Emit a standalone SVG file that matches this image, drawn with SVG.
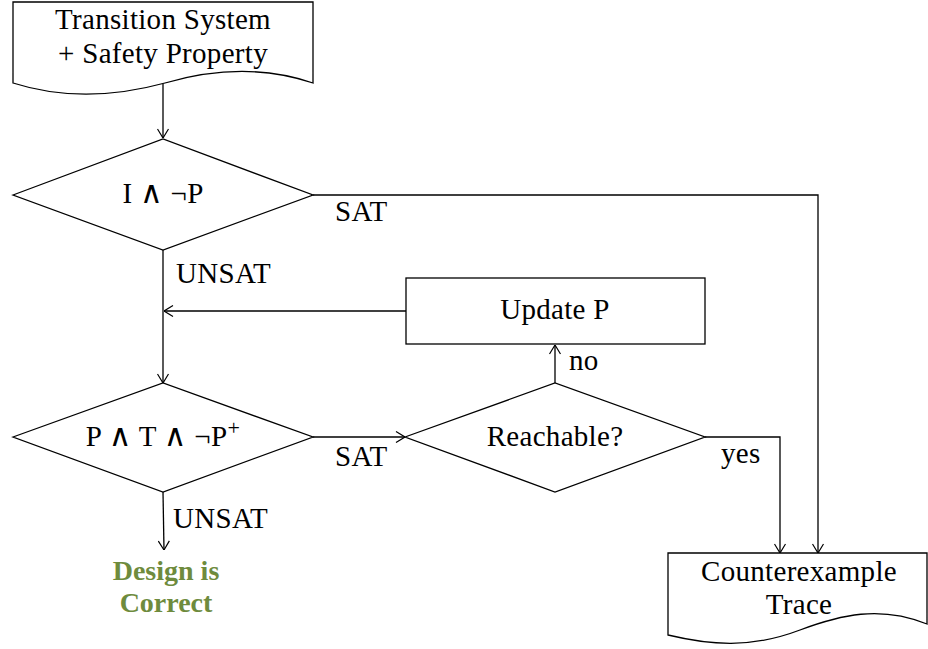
<svg xmlns="http://www.w3.org/2000/svg" width="928" height="649" viewBox="0 0 928 649">
<style>
.s{fill:#fff;stroke:#000;stroke-width:1.3}
.c{fill:none;stroke:#000;stroke-width:1.3}
text{font-family:"Liberation Serif","DejaVu Serif",serif;font-size:29px;letter-spacing:0.3px;fill:#000}
.m{text-anchor:middle}
.g{fill:#6E8B3D;font-weight:bold;font-size:28px;letter-spacing:0}
.w{font-family:"DejaVu Sans",sans-serif;font-size:31px}
</style>
<defs>
<marker id="a" viewBox="0 0 10 12" refX="10" refY="6" markerWidth="10" markerHeight="12" markerUnits="userSpaceOnUse" orient="auto">
<path d="M1,0.5 L10,6 L1,11.5" fill="none" stroke="#000" stroke-width="1.2"/>
</marker>
</defs>
<g id="connectors">
<path class="c" d="M163,84 V138" marker-end="url(#a)"/>
<path class="c" d="M313,195 H818 V553" marker-end="url(#a)"/>
<path class="c" d="M163,250 V383" marker-end="url(#a)"/>
<path class="c" d="M406,311 H164" marker-end="url(#a)"/>
<path class="c" d="M555,383 V345" marker-end="url(#a)"/>
<path class="c" d="M313,437 H405" marker-end="url(#a)"/>
<path class="c" d="M163,492 L164,550" marker-end="url(#a)"/>
<path class="c" d="M705,437 H780 V553" marker-end="url(#a)"/>
<text x="335" y="221">SAT</text>
<text x="176" y="283">UNSAT</text>
<text x="569" y="370">no</text>
<text x="335" y="466">SAT</text>
<text x="173" y="528">UNSAT</text>
<text x="721" y="463">yes</text>
</g>
<g id="input">
<path class="s" d="M13,2 H313 V83 C260,65 210,70 165,83 C110,98 60,98 13,83 Z"/>
<text class="m" x="163" y="29">Transition System</text>
<text class="m" x="163" y="63">+ Safety Property</text>
</g>
<g id="init">
<path class="s" d="M13,195 L163,139 L313,195 L163,250 Z"/>
<text class="m" x="163" y="203">I <tspan class="w">∧</tspan> ¬P</text>
</g>
<g id="update">
<rect class="s" x="406" y="278" width="299" height="66"/>
<text class="m" x="555" y="319">Update P</text>
</g>
<g id="step">
<path class="s" d="M13,437 L163,383 L313,437 L163,492 Z"/>
<text class="m" x="163" y="446">P <tspan class="w">∧</tspan> T <tspan class="w">∧</tspan> ¬P<tspan dy="-11" font-size="22">+</tspan></text>
</g>
<g id="reach">
<path class="s" d="M405,437 L555,383 L705,437 L555,492 Z"/>
<text class="m" x="555" y="446">Reachable?</text>
</g>
<g id="correct">
<text class="m g" x="166" y="580">Design is</text>
<text class="m g" x="166" y="612">Correct</text>
</g>
<g id="cex">
<path class="s" d="M668,553 H927 V624 C880,605 840,615 800,630 C750,649 710,645 668,635 Z"/>
<text class="m" x="799" y="581">Counterexample</text>
<text class="m" x="799" y="614">Trace</text>
</g>
</svg>
